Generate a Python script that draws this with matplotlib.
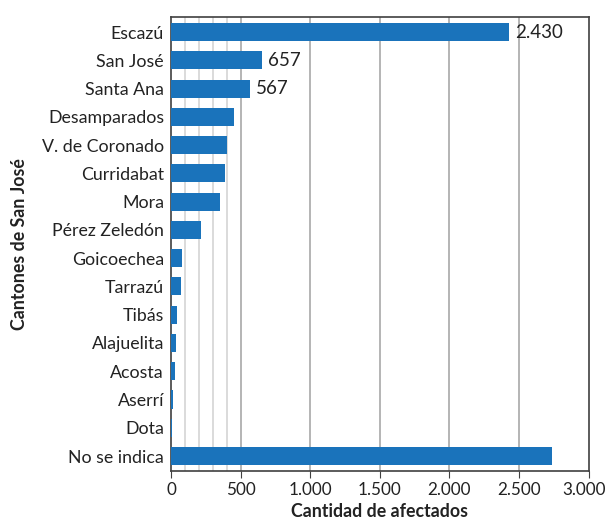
import matplotlib.pyplot as plt
import matplotlib.transforms as mtransforms
from matplotlib.ticker import FuncFormatter

plt.rcParams['font.family'] = ['Lato', 'DejaVu Sans']

cantones = ['Escazú', 'San José', 'Santa Ana', 'Desamparados', 'V. de Coronado',
            'Curridabat', 'Mora', 'Pérez Zeledón', 'Goicoechea', 'Tarrazú', 'Tibás',
            'Alajuelita', 'Acosta', 'Aserrí', 'Dota', 'No se indica']
afectados = [2430, 657, 567, 450, 400, 385, 350, 215, 80, 72, 45, 36, 29, 14, 4, 2735]
etiquetados = ['Escazú', 'San José', 'Santa Ana']

def miles(v, pos=None):
    return f'{int(v):,}'.replace(',', '.')

fig = plt.figure(figsize=(6.07, 5.25), dpi=100)
ax = fig.add_axes([0.2817, 0.1034, 0.688, 0.8646])

pos = list(range(len(cantones)))
ax.barh(pos, afectados, height=0.64, color='#1a73bb', zorder=3)

# lineas guia finas bajo 500 y principales cada 500
for x in [100, 200, 300, 400]:
    ax.axvline(x, color='#d4d4d4', lw=1.2, zorder=1)
for x in [500, 1000, 1500, 2000, 2500]:
    ax.axvline(x, color='#a8a8a8', lw=1.2, zorder=1)

for nombre, v, p in zip(cantones, afectados, pos):
    if nombre in etiquetados:
        ax.text(v + 40, p, miles(v), va='center', ha='left', fontsize=13.5, color='#222222')

ax.set_xlim(0, 3000)
ax.set_ylim(15.52, -0.54)
ax.set_yticks(pos)
ax.set_yticklabels(cantones, fontsize=12.8, color='#222222')
ax.set_xticks(range(0, 3001, 500))
ax.xaxis.set_major_formatter(FuncFormatter(miles))
ax.tick_params(axis='x', labelsize=12.3, labelcolor='#222222', length=5, color='#404040', pad=3)
ax.tick_params(axis='y', length=0, pad=5)
for s in ax.spines.values():
    s.set_color('#404040')
    s.set_linewidth(1.2)

# el ultimo rotulo del eje x se corre un poco para que quepa en la figura
ultimo = ax.xaxis.get_major_ticks()[-1].label1
ultimo.set_transform(ultimo.get_transform() +
                     mtransforms.ScaledTranslation(-5 / 100, 0, fig.dpi_scale_trans))

ax.set_xlabel('Cantidad de afectados', fontsize=12.8, fontweight='bold', color='#222222', labelpad=4)
ax.set_ylabel('Cantones de San José', fontsize=12.8, fontweight='bold', color='#222222', labelpad=10)

fig.savefig('out.png', dpi=100)
